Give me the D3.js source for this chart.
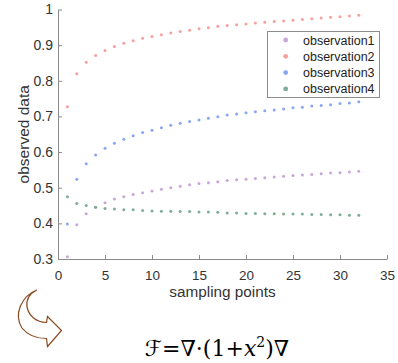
<!DOCTYPE html>
<html>
<head>
<meta charset="utf-8">
<script src="https://cdn.jsdelivr.net/npm/d3@7"></script>
<style>
  html, body { margin: 0; padding: 0; background: #fff; }
  svg { display: block; }
</style>
</head>
<body>
<div id="chart"></div>
<script>
// ---- data ----
const samplingPoints = d3.range(1, 33);
const observation1 = [0.306, 0.396, 0.427, 0.445, 0.458, 0.468, 0.475, 0.481, 0.486, 0.491,
  0.496, 0.500, 0.504, 0.508, 0.512, 0.514, 0.517, 0.520, 0.522, 0.524,
  0.526, 0.528, 0.530, 0.532, 0.534, 0.536, 0.537, 0.539, 0.541, 0.542, 0.544, 0.546];
const observation2 = [0.727, 0.820, 0.852, 0.871, 0.885, 0.896, 0.905, 0.912, 0.919, 0.924,
  0.929, 0.934, 0.938, 0.942, 0.946, 0.949, 0.953, 0.955, 0.957, 0.959,
  0.962, 0.964, 0.966, 0.968, 0.970, 0.972, 0.974, 0.976, 0.978, 0.980, 0.982, 0.984];
const observation3 = [0.398, 0.524, 0.567, 0.592, 0.611, 0.625, 0.636, 0.646, 0.655, 0.661,
  0.668, 0.675, 0.681, 0.686, 0.690, 0.695, 0.699, 0.704, 0.707, 0.710,
  0.713, 0.716, 0.718, 0.721, 0.724, 0.726, 0.729, 0.731, 0.733, 0.736, 0.738, 0.741];
const observation4 = [0.475, 0.456, 0.450, 0.445, 0.442, 0.440, 0.438, 0.438, 0.436, 0.435,
  0.434, 0.434, 0.433, 0.433, 0.432, 0.432, 0.431, 0.429, 0.429, 0.428,
  0.428, 0.427, 0.427, 0.426, 0.426, 0.426, 0.425, 0.425, 0.424, 0.424, 0.423, 0.423];
const seriesNames = ["observation1", "observation2", "observation3", "observation4"];
const seriesColors = ["#c9a6d8", "#f5a09d", "#89a6f5", "#7fad97"];
const xTicks = [0, 5, 10, 15, 20, 25, 30, 35];
const yTicks = [0.3, 0.4, 0.5, 0.6, 0.7, 0.8, 0.9, 1];
const xLabel = "sampling points";
const yLabel = "observed data";

const allSeries = [observation1, observation2, observation3, observation4];

// ---- drawing ----
const W = 398, H = 363;
const svg = d3.select("#chart").append("svg").attr("width", W).attr("height", H);

const x = d3.scaleLinear().domain([0, 35]).range([58, 387]);
const y = d3.scaleLinear().domain([0.3, 1]).range([259, 9.5]);

const axisColor = "#8a8a8a", textColor = "#333";

const gx = svg.append("g").attr("transform", `translate(0,${y(0.3)})`)
  .call(d3.axisBottom(x).tickValues(xTicks).tickFormat(d3.format("~g"))
        .tickSizeInner(-4).tickSizeOuter(0).tickPadding(11));
const gy = svg.append("g").attr("transform", `translate(${x(0)},0)`)
  .call(d3.axisLeft(y).tickValues(yTicks).tickFormat(d3.format("~g"))
        .tickSizeInner(-4).tickSizeOuter(0).tickPadding(5));

[gx, gy].forEach(g => {
  g.select(".domain").attr("stroke", axisColor);
  g.selectAll(".tick line").attr("stroke", axisColor);
  g.selectAll(".tick text").attr("fill", textColor)
    .attr("font-family", "Liberation Sans, Arial, sans-serif");
});
gx.selectAll(".tick text").attr("font-size", 13.5);
gy.selectAll(".tick text").attr("font-size", 14);

svg.append("text")
  .attr("x", 222.5).attr("y", 297)
  .attr("text-anchor", "middle")
  .attr("font-family", "Liberation Sans, Arial, sans-serif")
  .attr("font-size", 15.3).attr("fill", textColor)
  .text(xLabel);

svg.append("text")
  .attr("transform", `translate(28.5,${(y(0.3) + y(1)) / 2}) rotate(-90)`)
  .attr("text-anchor", "middle")
  .attr("font-family", "Liberation Sans, Arial, sans-serif")
  .attr("font-size", 15.5).attr("fill", textColor)
  .text(yLabel);

// points
allSeries.forEach((vals, i) => {
  svg.append("g").selectAll("circle")
    .data(vals.map((v, j) => [samplingPoints[j], v]))
    .join("circle")
    .attr("cx", d => x(d[0]))
    .attr("cy", d => y(d[1]))
    .attr("r", 1.5)
    .attr("fill", seriesColors[i]);
});

// legend
const lg = svg.append("g");
lg.append("rect")
  .attr("x", 267.5).attr("y", 31.5).attr("width", 112).attr("height", 66)
  .attr("fill", "#fff").attr("stroke", "#8c8c8c").attr("stroke-width", 1);
seriesNames.forEach((name, i) => {
  const cy = 40 + i * 16.3;
  lg.append("circle").attr("cx", 285.7).attr("cy", cy).attr("r", 2.4)
    .attr("fill", seriesColors[i]);
  lg.append("text").attr("x", 303).attr("y", cy).attr("dy", "0.36em")
    .attr("font-family", "Liberation Sans, Arial, sans-serif")
    .attr("font-size", 12.5).attr("fill", "#222")
    .text(name);
});

// curved arrow
svg.append("path")
  .attr("d", "M36.7,290 C22,296 13,314 22,328 C29,337 38,338.5 46.5,338.5 L47.5,346.5 L61.5,330.5 L47.5,316.5 L46.5,322.5 C36,322 29,316 27,307 C26,300 29,294 36.7,290 Z")
  .attr("fill", "#fff").attr("stroke", "#8b4a22").attr("stroke-width", 1.2)
  .attr("stroke-linejoin", "miter");

// formula
const f = svg.append("text")
  .attr("x", 217).attr("y", 356)
  .attr("text-anchor", "middle")
  .attr("font-family", "DejaVu Serif, DejaVu Sans, serif")
  .attr("font-size", 22).attr("fill", "#000");
f.append("tspan").attr("font-style", "italic").text("ℱ");
f.append("tspan").text("=∇·(1+");
f.append("tspan").attr("font-style", "italic").text("x");
f.append("tspan").attr("font-size", 14).attr("dy", -9).text("2");
f.append("tspan").attr("dy", 9).text(")");
f.append("tspan").attr("font-style", "italic").text("∇");
</script>
</body>
</html>
